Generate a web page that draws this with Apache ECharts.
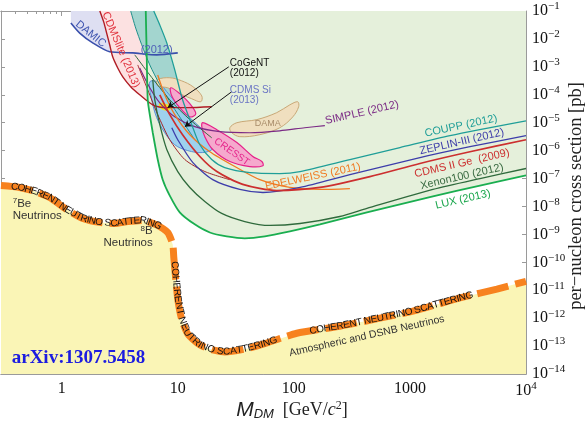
<!DOCTYPE html>
<html><head><meta charset="utf-8">
<script src="https://cdn.jsdelivr.net/npm/echarts@6/dist/echarts.min.js"></script>
<style>html,body{margin:0;padding:0;background:#fff}#c{width:587px;height:426px}</style>
</head><body><div id="c"></div>
<script>
// ---------- axis ticks ----------
const massTicks = [1, 10, 100, 1000, 10000];
const massMinorTicks = [0.3,0.4,0.5,0.6,0.7,0.8,0.9,2,3,4,5,6,7,8,9,20,30,40,50,60,70,80,90,200,300,400,500,600,700,800,900,2000,3000,4000,5000,6000,7000,8000,9000];
const sigmaTicks = [1e-14,1e-13,1e-12,1e-11,1e-10,1e-9,1e-8,1e-7,1e-6,1e-5,1e-4,1e-3,1e-2,1e-1];

// ---------- data: [mass GeV, sigma pb] ----------
const neutrinoFloor = [[0.3,5.62e-8],[0.434,4.79e-8],[0.585,3.47e-8],[0.788,2.09e-8],[1.10,7.76e-9],[1.52,3.72e-9],[2.13,2.69e-9],[2.86,2.45e-9],[3.71,2.88e-9],[4.99,3.16e-9],[6.72,2.09e-9],[8.20,1.17e-9],[9.05,4.37e-10],[9.24,1.51e-10],[9.61,2.45e-11],[10.0,4.79e-12],[10.8,9.12e-13],[12.2,2.69e-13],[15.5,1.10e-13],[20.0,7.24e-14],[25.4,6.17e-14],[37.8,7.76e-14],[54.1,1.17e-13],[106,2.88e-13],[249,5.13e-13],[551,1.0e-12],[1062,1.78e-12],[2865,5.62e-12],[5620,1.10e-11],[10000,2.09e-11]];
const lux = [[5.30,0.1],[5.41,1.78e-3],[5.51,6.6e-5],[5.74,1.95e-5],[6.09,4.37e-6],[6.72,4.8e-7],[7.42,9.1e-8],[8.53,2.45e-8],[10.4,6.17e-9],[14.0,2.29e-9],[18.9,1.17e-9],[26.4,8.51e-10],[37.8,7.24e-10],[56.3,8.51e-10],[92.4,1.29e-9],[168,2.29e-9],[426,6.17e-9],[1578,2.29e-8],[4011,5.62e-8],[10000,1.29e-7]];
const xenon100 = [[6.09,3.47e-4],[6.34,6.6e-5],[7.00,8.51e-6],[8.04,1.10e-6],[10.0,1.78e-7],[12.7,4.79e-8],[17.1,1.51e-8],[23.9,5.62e-9],[37.8,2.88e-9],[62.1,2.09e-9],[113,2.45e-9],[249,4.37e-9],[426,8.51e-9],[1578,4.07e-8],[4011,1.0e-7],[10000,2.29e-7]];
const cdmsIIGe = [[7.00,1.0e-4],[8.53,1.95e-5],[11.0,3.72e-6],[15.5,6.17e-7],[21.7,1.78e-7],[36.3,6.17e-8],[71.3,3.72e-8],[168,4.79e-8],[452,1.17e-7],[1219,3.47e-7],[3289,9.1e-7],[10000,2.45e-6]];
const zeplin3 = [[8.88,6.6e-6],[10.0,2.45e-6],[13.5,3.72e-7],[20.0,9.1e-8],[34.2,4.07e-8],[54.1,3.16e-8],[113,4.79e-8],[304,1.38e-7],[1219,5.62e-7],[3289,1.38e-6],[10000,3.47e-6]];
const coupp = [[6.21,0.1],[7.00,3.16e-2],[8.04,7.2e-3],[9.42,7.8e-4],[11.0,6.6e-5],[13.2,8.51e-6],[15.5,1.62e-6],[19.6,4.79e-7],[25.4,2.45e-7],[41.8,1.62e-7],[75.7,1.51e-7],[113,1.78e-7],[304,4.79e-7],[820,1.29e-6],[2213,3.47e-6],[10000,1.17e-5]];
const tealLeft = [[3.93,0.1],[4.34,2.45e-2],[4.89,6.17e-3],[5.74,1.17e-3],[7.00,2.29e-4],[8.88,4.37e-5],[11.5,8.51e-6],[14.0,2.45e-6]];
const damic = [[1.20,3.72e-2],[1.43,1.62e-2],[1.85,7.2e-3],[2.59,3.47e-3],[4.09,3.16e-3],[6.59,2.69e-3],[10.0,3.16e-3]];
const cdmslite = [[2.13,0.1],[2.30,4.07e-2],[2.44,1.62e-2],[2.59,6.17e-3],[2.75,2.29e-3],[3.04,9.1e-4],[3.36,4.37e-4],[3.93,1.95e-4],[4.70,1.0e-4],[6.09,4.37e-5],[8.04,3.47e-5],[12.2,3.47e-5],[19.6,3.72e-5]];
const simple = [[4.70,9.1e-4],[5.74,1.78e-4],[7.00,5.13e-5],[9.42,1.62e-5],[14.0,7.2e-6],[23.0,4.79e-6],[41.8,4.37e-6],[75.7,5.13e-6],[124,6.6e-6],[185,7.8e-6]];
const edelweiss = [[6.72,5.13e-4],[7.72,1.0e-4],[9.42,1.95e-5],[12.7,3.72e-6],[18.9,9.1e-7],[31.0,2.69e-7],[50.9,9.1e-8],[92.4,4.79e-8],[168,4.07e-8],[304,4.37e-8]];
const xenon10 = [[4.26,2.69e-3],[5.74,5.13e-4],[8.53,6.6e-5],[12.7,1.29e-5],[19.6,2.88e-6]];
const cdmsLowE = [[4.52,1.17e-3],[5.51,1.51e-4],[6.72,1.95e-5],[8.53,2.45e-6],[11.5,4.79e-7],[17.1,1.78e-7],[28.1,9.1e-8]];
const cdmsSi = [[5.74,2.88e-4],[5.97,6.6e-5],[6.59,1.51e-5],[7.72,4.37e-6],[9.42,1.62e-6],[12.2,1.0e-6],[16.4,8.51e-7],[20.0,1.17e-6],[19.6,2.45e-6],[16.4,5.62e-6],[12.7,1.51e-5],[10.0,4.37e-5],[8.04,1.29e-4],[6.72,2.88e-4]];
const damaA = [[6.72,3.47e-4],[8.53,4.07e-4],[10.8,3.16e-4],[13.5,1.95e-4],[16.1,9.1e-5],[15.8,5.62e-5],[13.2,7.2e-5],[10.4,1.10e-4],[8.20,1.78e-4],[6.72,2.09e-4]];
const damaB = [[28.1,6.6e-6],[32.3,1.0e-5],[48.0,1.29e-5],[71.3,2.29e-5],[92.4,4.37e-5],[108,5.62e-5],[110,3.72e-5],[98.0,1.62e-5],[75.7,6.6e-6],[50.9,3.72e-6],[34.2,3.16e-6],[29.2,4.37e-6]];
const cresstA = [[16.4,1.0e-5],[21.7,5.62e-6],[32.3,1.95e-6],[44.3,6.17e-7],[53.0,4.07e-7],[54.1,2.88e-7],[41.8,2.69e-7],[28.1,4.07e-7],[20.0,1.10e-6],[17.1,3.16e-6],[16.1,7.2e-6]];
const cresstB = [[8.70,1.78e-4],[10.4,1.10e-4],[12.7,4.79e-5],[14.3,2.09e-5],[12.7,1.62e-5],[10.4,3.47e-5],[8.88,9.1e-5]];
const cogent = [[7.00,5.13e-5],[7.88,4.79e-5],[8.70,3.72e-5],[8.36,2.69e-5],[7.42,2.88e-5],[6.86,4.07e-5]];
const arrows = [[[27.5,1.0e-3],[8.20,3.47e-5]],[[29.2,1.29e-4],[11.5,7.2e-6]]];

const floorText = 'COHERENT NEUTRINO SCATTERING';
const floorTextSpans = [[0.016,0.268],[0.328,0.597],[0.650,0.914]];

const annotations = [
  {t:'SIMPLE (2012)', at:[386,2.29e-5], c:'#7b2a85', r:13, s:11},
  {t:'COUPP (2012)', at:[2754,7.6e-6], c:'#1f9e98', r:12, s:11},
  {t:'ZEPLIN-III (2012)', at:[2805,2.09e-6], c:'#3d3daa', r:13, s:11},
  {t:'CDMS II Ge  (2009)', at:[2805,3.5e-7], c:'#cc2f2f', r:13, s:11},
  {t:'Xenon100 (2012)', at:[2805,1.17e-7], c:'#3a6b42', r:13, s:11},
  {t:'LUX (2013)', at:[2860,1.78e-8], c:'#1aa64c', r:13, s:11},
  {t:'EDELWEISS (2011)', at:[146,1.17e-7], c:'#f07a22', r:12, s:11},
  {t:'CRESST', at:[29.2,9.1e-7], c:'#e6268c', r:-35, s:10},
  {t:'DAMA', at:[59.7,9.1e-6], c:'#a88c6a', r:0, s:9},
  {t:'DAMIC', at:[1.78,1.51e-2], c:'#3f55b0', r:-39, s:11},
  {t:'(2012)', at:[6.59,4.07e-3], c:'#5060b8', r:0, s:11},
  {t:'CDMSlite (2013)', at:[3.23,4.07e-3], c:'#e0303c', r:-67, s:11},
  {t:'Atmospheric and DSNB Neutrinos', at:[426,2.29e-13], c:'#333', r:12.6, s:10.5},
  {t:'CoGeNT', at:[28.1,1.33e-3], c:'#111', r:0, s:10, a:'left'},
  {t:'(2012)', at:[28.1,5.9e-4], c:'#111', r:0, s:10, a:'left'},
  {t:'CDMS Si', at:[28.1,1.51e-4], c:'#6a74c4', r:0, s:10, a:'left'},
  {t:'(2013)', at:[28.1,6.6e-5], c:'#6a74c4', r:0, s:10, a:'left'},
  {t:'{u|7}Be', at:[0.378,1.29e-8], c:'#333', r:0, s:11.5, a:'left'},
  {t:'Neutrinos', at:[0.378,4.79e-9], c:'#333', r:0, s:11.5, a:'left'},
  {t:'{u|8}B', at:[6.09,1.29e-9], c:'#333', r:0, s:11.5, a:'right'},
  {t:'Neutrinos', at:[6.09,4.79e-10], c:'#333', r:0, s:11.5, a:'right'}
];

// ---------- helpers ----------
const frame = '#9a9a9a';
const SERIF = '"Liberation Serif","DejaVu Serif",serif';
const SANS = '"Liberation Sans",Arial,sans-serif';
function isPow10(v){const l=Math.log10(v);return Math.abs(l-Math.round(l))<1e-6;}
function xAx(pos, ticks, len, labels){
  const ax = {type:'log', logBase:10, min:0.3, max:10000, position:pos,
    axisLine:{show:true, onZero:false, lineStyle:{color:frame,width:1}},
    axisTick:{show:true, inside:true, length:len, customValues:ticks, lineStyle:{color:frame,width:1}},
    axisLabel:{show:false}, splitLine:{show:false}, minorTick:{show:false}, axisPointer:{show:false}};
  if (labels) {
    ax.axisLabel = {show:true, customValues:ticks, margin:7, color:'#111', fontFamily:SERIF, fontSize:16,
      formatter:function(v){ if(!isPow10(v)) return ''; const e=Math.round(Math.log10(v)); return e<4? String(Math.round(v)) : '{b|10}{s|'+e+'}'; },
      rich:{b:{fontFamily:SERIF,fontSize:16,color:'#111'}, s:{fontFamily:SERIF,fontSize:11,color:'#111',padding:[0,0,8,0]}}};
  }
  return ax;
}
function yAx(pos, labels){
  const ax = {type:'log', logBase:10, min:1e-14, max:0.1, position:pos,
    axisLine:{show:true, onZero:false, lineStyle:{color:frame,width:1}},
    axisTick:{show:true, inside:true, length:4, customValues:sigmaTicks, lineStyle:{color:frame,width:1}},
    axisLabel:{show:false}, splitLine:{show:false}, minorTick:{show:false}};
  if (labels) {
    ax.axisLabel = {show:true, customValues:sigmaTicks, margin:6, color:'#111', showMinLabel:true, showMaxLabel:true,
      formatter:function(v){ const e=Math.round(Math.log10(v)); return '{b|10}{s|\u2212'+(-e)+'}'; },
      rich:{b:{fontFamily:SERIF,fontSize:16,color:'#111'}, s:{fontFamily:SERIF,fontSize:11,color:'#111',padding:[0,0,9,0]}}};
  }
  return ax;
}
function poly(name, pts, fill, stroke, lw, z, smooth){
  return {type:'custom', name, coordinateSystem:'cartesian2d', xAxisIndex:0, yAxisIndex:0, z, silent:true,
    data: pts, encode:{x:0,y:1},
    renderItem:function(params, api){
      if (params.dataIndex !== 0) return;
      const points = pts.map(p => api.coord(p));
      return {type:'polygon', shape:{points, smooth:smooth||0}, style:{fill, stroke:stroke||null, lineWidth:lw||0}};
    }};
}
function line(name, pts, color, width, z, smooth){
  return {type:'line', name, data:pts, xAxisIndex:0, yAxisIndex:0, symbol:'none', showSymbol:false, silent:true,
    smooth: smooth===undefined?0.25:smooth, lineStyle:{color, width}, z};
}

const series = [
  poly('floorFill', neutrinoFloor.concat([[10000,1e-14],[0.3,1e-14]]), '#faf5b6', null, 0, 1, 0),
  poly('damicFill', damic.concat([[10,0.1],[1.20,0.1]]), '#dedff2', null, 0, 2, 0),
  poly('cdmsliteFill', cdmslite.concat([[19.6,0.1]]), '#fce1e1', null, 0, 3, 0),
  poly('luxFill', lux.concat([[10000,0.1]]), '#e5f0db', null, 0, 4, 0),
  poly('tealFill', tealLeft.concat(coupp.slice(0,7).reverse()), '#a3d5cf', null, 0, 5, 0),
  poly('cdmsSi', cdmsSi, 'rgba(150,205,240,0.9)', '#5a8fd6', 1, 6, 0.35),
  poly('damaA', damaA, '#f0dfbf', '#c9a877', 1, 7, 0.35),
  poly('damaB', damaB, '#f0dfbf', '#c9a877', 1, 7, 0.35),
  poly('cresstA', cresstA, '#f5a9cd', '#e6208a', 1.2, 8, 0.35),
  poly('cresstB', cresstB, '#f5a9cd', '#e6208a', 1.2, 8, 0.35),
  poly('cogent', cogent, '#f2e21c', null, 0, 9, 0.35),
  line('tealLeft', tealLeft, '#1f8f8a', 1, 10),
  line('DAMIC', damic, '#3a50ac', 1.6, 10),
  line('CDMSlite', cdmslite, '#b01c24', 1.4, 10),
  line('xenon10', xenon10, '#2f6a3c', 1, 10),
  line('cdmsLowE', cdmsLowE, '#a3262a', 1, 10),
  line('SIMPLE', simple, '#7b2a85', 1.2, 11),
  line('EDELWEISS', edelweiss, '#f07a22', 1.3, 11),
  line('COUPP', coupp, '#1f9e98', 1.3, 11),
  line('ZEPLIN', zeplin3, '#3d3daa', 1.3, 11),
  line('CDMSIIGe', cdmsIIGe, '#cc2f2f', 1.7, 11),
  line('Xenon100', xenon100, '#2f6a3c', 1.3, 11),
  line('LUX', lux, '#1aae50', 1.8, 12),
  {type:'line', name:'floorBand', data:neutrinoFloor, symbol:'none', silent:true, smooth:0.2, z:13,
    lineStyle:{color:'#f7821f', width:7, type:[32,7], cap:'butt'}},
  {type:'lines', coordinateSystem:'cartesian2d', silent:true, z:14, symbol:['none','arrow'], symbolSize:6,
    data: arrows.map(a => ({coords:a})), lineStyle:{color:'#111', width:1, opacity:1}}
];

const option = {
  animation:false,
  backgroundColor:'#fff',
  grid:{left:1, right:61, top:11, bottom:52, containLabel:false},
  xAxis:[xAx('bottom', massTicks, 5, true), xAx('bottom', massMinorTicks, 3, false), xAx('top', massTicks, 5, false), xAx('top', massMinorTicks, 3, false)],
  yAxis:[yAx('right', true), yAx('left', false)],
  series
};

const chart = echarts.init(document.getElementById('c'), null, {renderer:'canvas'});
chart.setOption(option);

// ---------- annotations (positioned through the chart's own scales) ----------
const toPx = p => chart.convertToPixel({xAxisIndex:0, yAxisIndex:0}, p);
const graphics = [];
annotations.forEach(a => {
  const p = toPx(a.at);
  graphics.push({type:'text', x:p[0], y:p[1], rotation:a.r*Math.PI/180, z:100, silent:true,
    style:{text:a.t, fill:a.c, fontFamily:SANS, fontSize:a.s, align:a.a||'center', verticalAlign:'middle',
      rich:{u:{fontFamily:SANS, fontSize:a.s*0.7, fill:a.c, padding:[0,0,6,0]}}}});
});
// text along the neutrino floor
(function(){
  const pts = neutrinoFloor.map(toPx);
  const cum=[0];
  for(let i=1;i<pts.length;i++){cum.push(cum[i-1]+Math.hypot(pts[i][0]-pts[i-1][0], pts[i][1]-pts[i-1][1]));}
  const L = cum[cum.length-1];
  function at(s){
    s=Math.max(0,Math.min(L,s));
    let i=1; while(i<cum.length-1 && cum[i]<s) i++;
    const t=(s-cum[i-1])/(cum[i]-cum[i-1]||1);
    return [pts[i-1][0]+t*(pts[i][0]-pts[i-1][0]), pts[i-1][1]+t*(pts[i][1]-pts[i-1][1])];
  }
  const fontSize=10, font = fontSize+'px "Liberation Sans", Arial, sans-serif';
  const ctx=document.createElement('canvas').getContext('2d'); ctx.font=font;
  floorTextSpans.forEach(sp => {
    const s0=sp[0]*L, s1=sp[1]*L;
    const chars=floorText.split('');
    const w=chars.map(ch=>ctx.measureText(ch).width);
    const W=w.reduce((a,b)=>a+b,0);
    const gap=(s1-s0-W)/(chars.length-1);
    let cur=s0;
    chars.forEach((ch,k)=>{
      const sc=cur+w[k]/2;
      if(ch!==' '){
        const p=at(sc), pa=at(sc-4), pb=at(sc+4);
        const ang=Math.atan2(pb[1]-pa[1], pb[0]-pa[0]);
        graphics.push({type:'text', x:p[0], y:p[1], rotation:-ang, z:101, silent:true,
          style:{text:ch, fill:'#111', font:font, align:'center', verticalAlign:'middle'}});
      }
      cur+=w[k]+gap;
    });
  });
})();
// titles
const bl = toPx([0.371, 3.72e-14]);
graphics.push({type:'text', x:bl[0], y:bl[1], z:102, silent:true,
  style:{text:'arXiv:1307.5458', fill:'#1c1ce0', fontFamily:SERIF, fontWeight:'bold', fontSize:19, align:'left', verticalAlign:'middle'}});
graphics.push({type:'text', x:292, y:410, z:102, silent:true,
  style:{text:'{m|M}{d|DM}{u|  [GeV/}{i|c}{p|2}{u|]}', align:'center', verticalAlign:'middle',
    rich:{m:{fontFamily:SANS, fontStyle:'italic', fontSize:21, fill:'#222'},
          d:{fontFamily:SANS, fontStyle:'italic', fontSize:13, fill:'#222', padding:[8,0,0,0]},
          u:{fontFamily:SERIF, fontSize:18, fill:'#222'},
          i:{fontFamily:SERIF, fontStyle:'italic', fontSize:18, fill:'#222'},
          p:{fontFamily:SERIF, fontSize:12, fill:'#222', padding:[0,0,9,0]}}}});
graphics.push({type:'text', x:576, y:196, rotation:Math.PI/2, z:102, silent:true,
  style:{text:'per\u2212nucleon cross section [pb]', fill:'#222', fontFamily:SERIF, fontSize:18.5, align:'center', verticalAlign:'middle'}});
chart.setOption({graphic: graphics});
</script>
</body></html>
